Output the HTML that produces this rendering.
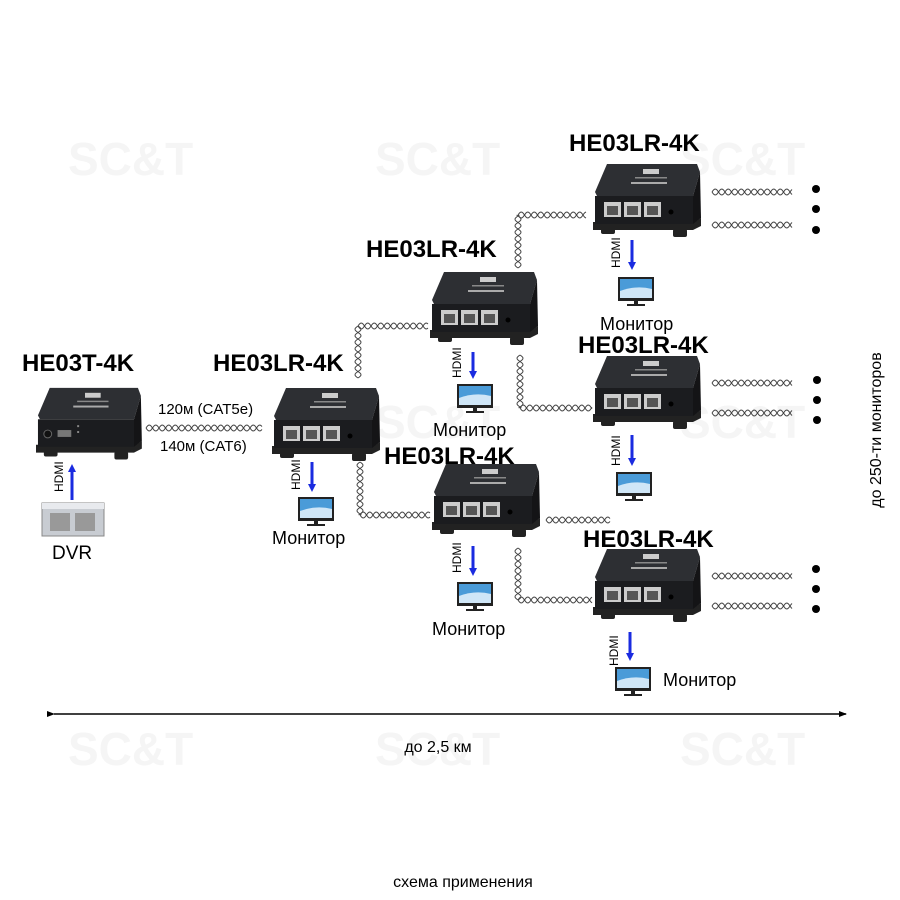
<!DOCTYPE html>
<html><head><meta charset="utf-8"><style>
html,body{margin:0;padding:0;background:#fff;}
svg{display:block;font-family:"Liberation Sans",Arial,sans-serif;}
.lb{font-weight:bold;font-size:24px;fill:#000;}
.t{font-size:16px;fill:#000;}
.h{font-size:12px;fill:#000;}
.wm{font-weight:bold;font-size:46px;fill:#f5f5f5;}
</style></head><body>
<svg id="s" width="900" height="900" viewBox="0 0 900 900" xmlns="http://www.w3.org/2000/svg">
<defs>
<g id="dev">
<polygon points="0,62 102,62 108,58 108,66 100,70 0,70" fill="#222"/>
<rect x="8" y="66" width="14" height="8" rx="2" fill="#222"/>
<rect x="80" y="69" width="14" height="8" rx="2" fill="#222"/>
<polygon points="14,4 104,4 107,12 100,36 4,36 2,32" fill="#2d2f33"/>
<polygon points="100,36 107,12 108,58 100,64" fill="#141416"/>
<rect x="2" y="36" width="98" height="28" fill="#1b1c1f"/>
<rect x="50" y="9" width="16" height="5" fill="#ccc"/>
<rect x="42" y="17" width="32" height="1.5" fill="#888"/>
<rect x="38" y="22" width="36" height="2" fill="#aaa"/>
</g>
<g id="rx">
<use href="#dev"/>
<rect x="11" y="42" width="17" height="15" fill="#ccc"/><rect x="14" y="46" width="11" height="9" fill="#555"/>
<rect x="31" y="42" width="17" height="15" fill="#ccc"/><rect x="34" y="46" width="11" height="9" fill="#555"/>
<rect x="51" y="42" width="17" height="15" fill="#ccc"/><rect x="54" y="46" width="11" height="9" fill="#555"/>
<circle cx="78" cy="52" r="2.5" fill="#000"/>
</g>
<g id="mon">
<rect x="0" y="0" width="36" height="24" fill="#222"/>
<rect x="2" y="2" width="32" height="19" fill="#4a9bd8"/>
<path d="M2,14 Q18,8 34,12 L34,21 L2,21Z" fill="#cfe6f7"/>
<rect x="16" y="24" width="4" height="3" fill="#222"/>
<rect x="9" y="27" width="18" height="2" fill="#222"/>
</g>
<marker id="ab" markerWidth="8" markerHeight="8" refX="4" refY="4" orient="auto" markerUnits="userSpaceOnUse" viewBox="0 0 8 8"><path d="M0,0 L8,4 L0,8Z" fill="#1a2be0"/></marker>
<marker id="ak" markerWidth="8" markerHeight="8" refX="7" refY="4" orient="auto" markerUnits="userSpaceOnUse" viewBox="0 0 8 8"><path d="M0,1 L8,4 L0,7Z" fill="#000"/></marker>
</defs>

<g class="wm">
<text x="68" y="175">SC&amp;T</text><text x="375" y="175">SC&amp;T</text><text x="680" y="175">SC&amp;T</text>
<text x="375" y="438">SC&amp;T</text><text x="680" y="438">SC&amp;T</text>
<text x="68" y="765">SC&amp;T</text><text x="375" y="765">SC&amp;T</text><text x="680" y="765">SC&amp;T</text>
</g>

<g id="cables" fill="none" stroke="#444" stroke-width="1"></g>

<g transform="translate(36,384) scale(0.98)">
<use href="#dev"/>
<circle cx="12" cy="51" r="4" fill="#111" stroke="#666"/>
<rect x="22" y="47" width="14" height="7" fill="#777"/>
<rect x="42" y="42" width="2" height="2" fill="#888"/><rect x="42" y="48" width="2" height="2" fill="#888"/>
</g>
<use href="#rx" x="272" y="384"/>
<use href="#rx" x="430" y="268"/>
<use href="#rx" x="432" y="460"/>
<use href="#rx" x="593" y="160"/>
<use href="#rx" x="593" y="352"/>
<use href="#rx" x="593" y="545"/>

<text class="lb" x="22" y="371">HE03T-4K</text>
<text class="lb" x="213" y="371">HE03LR-4K</text>
<text class="lb" x="366" y="257">HE03LR-4K</text>
<text class="lb" x="569" y="151">HE03LR-4K</text>
<text class="lb" x="578" y="353">HE03LR-4K</text>
<text class="lb" x="384" y="464">HE03LR-4K</text>
<text class="lb" x="583" y="547">HE03LR-4K</text>

<text class="t" x="158" y="414" style="font-size:15px">120м (CAT5e)</text>
<text class="t" x="160" y="451" style="font-size:15px">140м (CAT6)</text>

<g stroke="#1a2be0" stroke-width="3" fill="none">
<line x1="72" y1="500" x2="72" y2="468" marker-end="url(#ab)"/>
<line x1="312" y1="462" x2="312" y2="488" marker-end="url(#ab)"/>
<line x1="473" y1="352" x2="473" y2="375" marker-end="url(#ab)"/>
<line x1="473" y1="546" x2="473" y2="572" marker-end="url(#ab)"/>
<line x1="632" y1="240" x2="632" y2="266" marker-end="url(#ab)"/>
<line x1="632" y1="435" x2="632" y2="462" marker-end="url(#ab)"/>
<line x1="630" y1="632" x2="630" y2="657" marker-end="url(#ab)"/>
</g>
<g class="h">
<text transform="translate(63,492) rotate(-90)">HDMI</text>
<text transform="translate(300,490) rotate(-90)">HDMI</text>
<text transform="translate(461,378) rotate(-90)">HDMI</text>
<text transform="translate(461,573) rotate(-90)">HDMI</text>
<text transform="translate(620,268) rotate(-90)">HDMI</text>
<text transform="translate(620,466) rotate(-90)">HDMI</text>
<text transform="translate(618,666) rotate(-90)">HDMI</text>
</g>

<g transform="translate(42,503)">
<rect x="0" y="0" width="62" height="33" fill="#c8ccd2" stroke="#888"/>
<rect x="0" y="0" width="62" height="6" fill="#e8eaee"/>
<rect x="8" y="10" width="20" height="18" fill="#999"/>
<rect x="33" y="10" width="20" height="18" fill="#999"/>
</g>
<text class="t" x="52" y="559" style="font-size:19px">DVR</text>

<use href="#mon" x="298" y="497"/>
<use href="#mon" x="457" y="384"/>
<use href="#mon" x="457" y="582"/>
<use href="#mon" x="618" y="277"/>
<use href="#mon" x="616" y="472"/>
<use href="#mon" x="615" y="667"/>
<text class="t" x="272" y="544" style="font-size:18px">Монитор</text>
<text class="t" x="433" y="436" style="font-size:18px">Монитор</text>
<text class="t" x="432" y="635" style="font-size:18px">Монитор</text>
<text class="t" x="600" y="330" style="font-size:18px">Монитор</text>
<text class="t" x="663" y="686" style="font-size:18px">Монитор</text>

<g fill="#000">
<circle cx="816" cy="189" r="4"/><circle cx="816" cy="209" r="4"/><circle cx="816" cy="230" r="4"/>
<circle cx="817" cy="380" r="4"/><circle cx="817" cy="400" r="4"/><circle cx="817" cy="420" r="4"/>
<circle cx="816" cy="569" r="4"/><circle cx="816" cy="589" r="4"/><circle cx="816" cy="609" r="4"/>
</g>

<line x1="54" y1="714" x2="846" y2="714" stroke="#000" stroke-width="1.5" marker-end="url(#ak)" marker-start="url(#ak)"/>
<text class="t" x="438" y="752" text-anchor="middle">до 2,5 км</text>
<text class="t" x="463" y="887" text-anchor="middle">схема применения</text>
<text class="t" transform="translate(881,430) rotate(-90)" text-anchor="middle">до 250-ти мониторов</text>
</svg>
<script>
(function(){
var g=document.getElementById('cables');
function tw(x1,y1,x2,y2){
 var dx=x2-x1,dy=y2-y1,L=Math.sqrt(dx*dx+dy*dy),ux=dx/L,uy=dy/L,nx=-uy,ny=ux;
 [1,-1].forEach(function(s){
  var d='';for(var t=0;t<=L;t+=1){var a=s*3*Math.sin(t/13*2*Math.PI);
   var x=x1+ux*t+nx*a,y=y1+uy*t+ny*a;d+=(t?'L':'M')+x.toFixed(1)+','+y.toFixed(1);}
  var p=document.createElementNS('http://www.w3.org/2000/svg','path');p.setAttribute('d',d);g.appendChild(p);
 });
}
tw(146,428,262,428);
tw(358,378,358,326);tw(358,326,428,326);
tw(360,462,360,515);tw(360,515,430,515);
tw(518,268,518,215);tw(518,215,586,215);
tw(520,355,520,408);tw(520,408,592,408);
tw(546,520,610,520);
tw(518,548,518,600);tw(518,600,592,600);
[[192,225],[383,413],[576,606]].forEach(function(r){tw(712,r[0],792,r[0]);tw(712,r[1],792,r[1]);});
})();
</script>
</body></html>
